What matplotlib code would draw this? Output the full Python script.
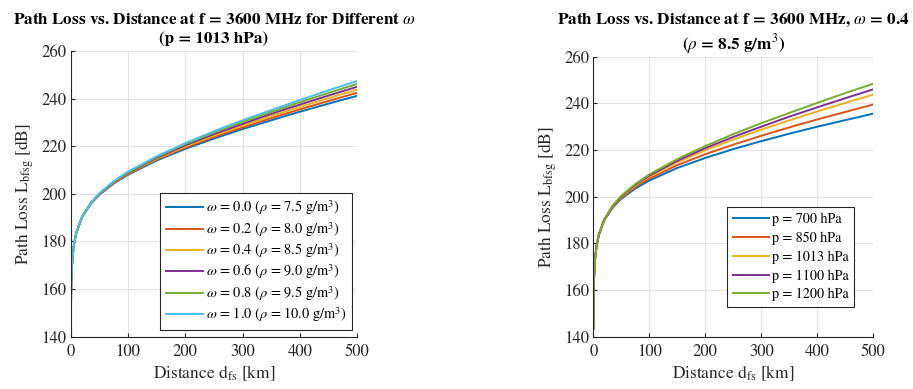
import matplotlib
matplotlib.use('Agg')
import matplotlib.pyplot as plt

plt.rcParams['font.family'] = ['STIXGeneral', 'DejaVu Serif']
plt.rcParams['mathtext.fontset'] = 'stix'

# distances [km] where values were read
dist = [0.1, 1, 3, 6, 10, 20, 35, 50, 75, 100, 150, 200, 250, 300, 350, 400, 450, 500]

# left: different omega, p = 1013 hPa
omega_labels = [r'$\omega$ = 0.0 ($\rho$ = 7.5 g/m$^3$)',
                r'$\omega$ = 0.2 ($\rho$ = 8.0 g/m$^3$)',
                r'$\omega$ = 0.4 ($\rho$ = 8.5 g/m$^3$)',
                r'$\omega$ = 0.6 ($\rho$ = 9.0 g/m$^3$)',
                r'$\omega$ = 0.8 ($\rho$ = 9.5 g/m$^3$)',
                r'$\omega$ = 1.0 ($\rho$ = 10.0 g/m$^3$)']
loss_w00 = [143.3, 163.3, 172.9, 179.1, 183.7, 190.2, 195.8, 199.6, 204.3, 208.0, 214.0, 218.9, 223.2, 227.2, 230.9, 234.5, 237.9, 241.2]
loss_w02 = [143.3, 163.3, 172.9, 179.1, 183.8, 190.3, 195.9, 199.8, 204.5, 208.3, 214.4, 219.4, 223.8, 227.9, 231.8, 235.5, 239.0, 242.5]
loss_w04 = [143.3, 163.3, 173.0, 179.1, 183.8, 190.3, 196.0, 199.9, 204.7, 208.6, 214.7, 219.9, 224.5, 228.7, 232.7, 236.5, 240.2, 243.8]
loss_w06 = [143.3, 163.3, 173.0, 179.1, 183.8, 190.4, 196.1, 200.0, 204.9, 208.8, 215.1, 220.4, 225.1, 229.4, 233.6, 237.5, 241.3, 245.0]
loss_w08 = [143.3, 163.3, 173.0, 179.2, 183.8, 190.4, 196.2, 200.1, 205.1, 209.0, 215.5, 220.9, 225.7, 230.2, 234.4, 238.5, 242.4, 246.2]
loss_w10 = [143.3, 163.3, 173.0, 179.2, 183.9, 190.5, 196.2, 200.3, 205.3, 209.3, 215.8, 221.3, 226.3, 230.9, 235.2, 239.4, 243.5, 247.4]

# right: different pressure, omega = 0.4
p_labels = ['p = 700 hPa', 'p = 850 hPa', 'p = 1013 hPa', 'p = 1100 hPa', 'p = 1200 hPa']
loss_p700 = [143.3, 163.3, 172.9, 179.0, 183.6, 190.0, 195.4, 199.1, 203.5, 206.9, 212.3, 216.6, 220.4, 223.8, 227.0, 230.0, 232.8, 235.6]
loss_p850 = [143.3, 163.3, 172.9, 179.1, 183.7, 190.2, 195.7, 199.5, 204.1, 207.7, 213.5, 218.2, 222.3, 226.1, 229.7, 233.1, 236.3, 239.5]
loss_p1013 = [143.3, 163.3, 173.0, 179.1, 183.8, 190.3, 196.0, 199.9, 204.7, 208.6, 214.7, 219.9, 224.5, 228.7, 232.7, 236.5, 240.2, 243.8]
loss_p1100 = [143.3, 163.3, 173.0, 179.2, 183.8, 190.4, 196.1, 200.1, 205.1, 209.0, 215.4, 220.8, 225.6, 230.0, 234.3, 238.3, 242.2, 246.0]
loss_p1200 = [143.3, 163.3, 173.0, 179.2, 183.9, 190.5, 196.3, 200.4, 205.4, 209.5, 216.1, 221.7, 226.8, 231.5, 235.9, 240.2, 244.4, 248.4]

colors = ['#0072BD', '#D95319', '#EDB120', '#7E2F8E', '#77AC30', '#4DBEEE']
axcol = '#262626'


def style_axes(ax):
    ax.set_xlim(0, 500)
    ax.set_ylim(140, 260)
    ax.set_xticks([0, 100, 200, 300, 400, 500])
    ax.set_yticks([140, 160, 180, 200, 220, 240, 260])
    ax.grid(True, color='#e3e3e3', linewidth=0.8)
    ax.set_axisbelow(True)
    ax.spines['top'].set_visible(False)
    ax.spines['right'].set_visible(False)
    for s in ('left', 'bottom'):
        ax.spines[s].set_color(axcol)
        ax.spines[s].set_linewidth(0.8)
    ax.tick_params(direction='in', length=3, colors=axcol, labelsize=12)
    ax.tick_params(axis='x', pad=5)
    ax.tick_params(axis='y', pad=3)
    ax.set_xlabel(r'Distance d$_{\rm fs}$ [km]', fontsize=12.5, color=axcol, labelpad=3)
    ax.set_ylabel(r'Path Loss L$_{\rm bfsg}$ [dB]', fontsize=12.5, color=axcol, labelpad=4)


def two_line_title(ax, line1, line2, off1, off2):
    # two separate lines, offsets in pixels above the axes top
    for txt, off in ((line1, off1), (line2, off2)):
        ax.annotate(txt, xy=(0.5, 1.0), xycoords='axes fraction', xytext=(0, off),
                    textcoords='offset pixels', ha='center', va='baseline',
                    fontsize=12.3, fontweight='bold')


fig = plt.figure(figsize=(9.13, 3.89), dpi=100)

ax1 = fig.add_axes([0.0774, 0.1345, 0.3139, 0.7344])
left_series = [loss_w00, loss_w02, loss_w04, loss_w06, loss_w08, loss_w10]
for vals, lab, c in zip(left_series, omega_labels, colors):
    ax1.plot(dist, vals, color=c, linewidth=1.4, label=lab)
style_axes(ax1)
two_line_title(ax1, 'Path Loss vs. Distance at f = 3600 MHz for Different $\\omega$',
               '(p = 1013 hPa)', 27, 8)
leg1 = ax1.legend(loc='lower right', fontsize=10.4, handlelength=2.6, handletextpad=0.15,
                  labelspacing=0.18, borderpad=0.4, borderaxespad=0, fancybox=False,
                  framealpha=1, edgecolor=axcol, bbox_to_anchor=(0.9815, 0.0235))
leg1.get_frame().set_linewidth(0.8)

ax2 = fig.add_axes([0.6498, 0.1345, 0.3067, 0.7198])
right_series = [loss_p700, loss_p850, loss_p1013, loss_p1100, loss_p1200]
for vals, lab, c in zip(right_series, p_labels, colors):
    ax2.plot(dist, vals, color=c, linewidth=1.4, label=lab)
style_axes(ax2)
two_line_title(ax2, 'Path Loss vs. Distance at f = 3600 MHz, $\\omega$ = 0.4',
               '($\\rho$ = 8.5 g/m$^3$)', 33, 7)
leg2 = ax2.legend(loc='lower right', fontsize=10.2, handlelength=2.6, handletextpad=0.15,
                  labelspacing=0.38, borderpad=0.4, borderaxespad=0, fancybox=False,
                  framealpha=1, edgecolor=axcol, bbox_to_anchor=(0.931, 0.106))
leg2.get_frame().set_linewidth(0.8)

fig.savefig('out.png', dpi=100)
